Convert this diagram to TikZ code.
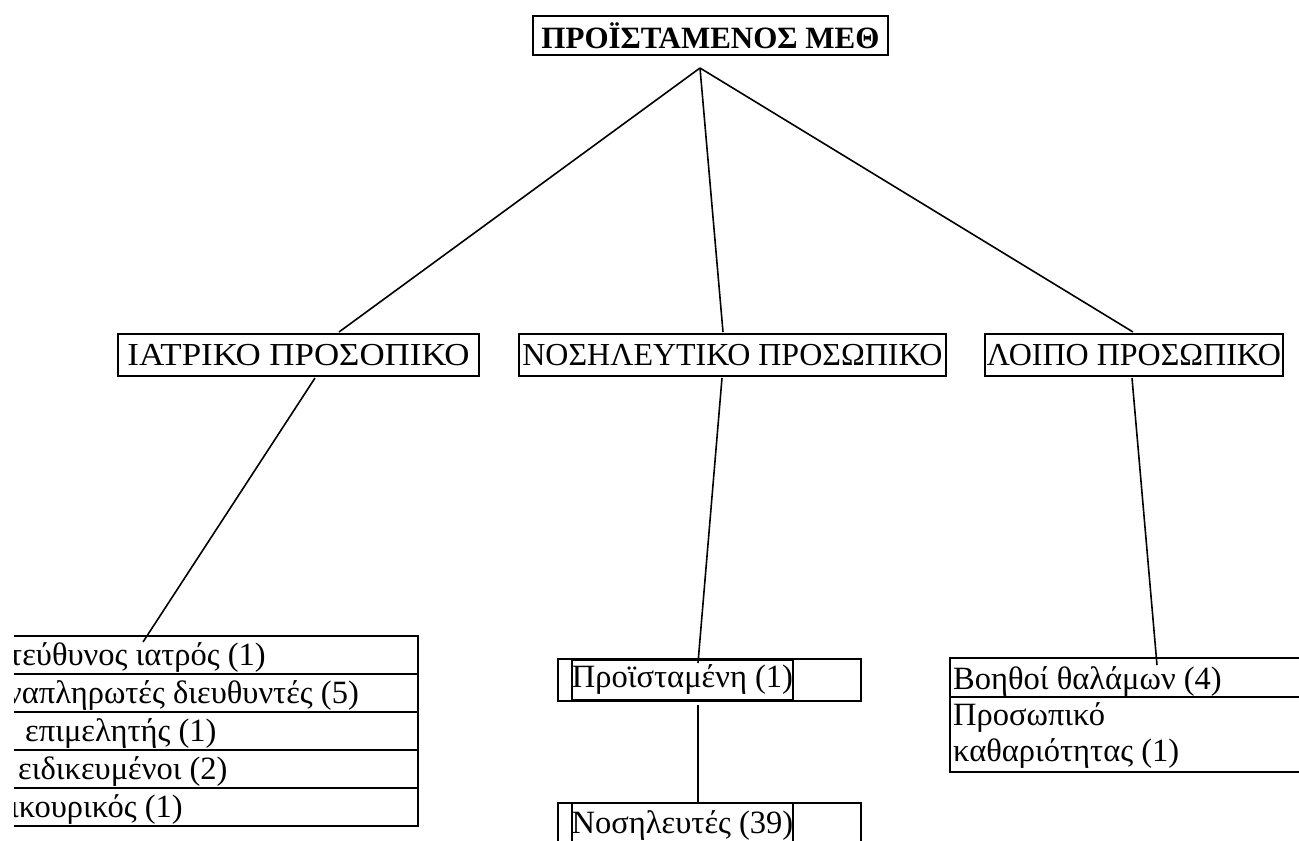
\documentclass[tikz,border=0pt]{standalone}
\usepackage{fontspec}
\setmainfont{Liberation Serif}
\begin{document}
\begin{tikzpicture}[x=1pt,y=-1pt,
  hbox/.style={draw, line width=1.8pt, inner sep=0pt, font=\fontsize{32}{36}\selectfont},
  cell/.style={inner sep=0pt, font=\fontsize{32.5}{37}\selectfont},
  rule/.style={line width=1.3pt},
  conn/.style={line width=1.6pt, color=black}]
\clip (0,0) rectangle (1299,841);
\fill[white] (0,0) rectangle (1299,841);

% top
\node[hbox, line width=1.5pt, minimum width=355pt, minimum height=39pt,
      font=\bfseries\fontsize{31}{36}\selectfont] (top) at (710.5,35.5) {ΠΡΟΪΣΤΑΜΕΝΟΣ ΜΕΘ};

% level 2
\node[hbox, minimum width=361pt, minimum height=42pt] (iatr) at (298.5,355) {\scalebox{1.09}[1]{ΙΑΤΡΙΚΟ ΠΡΟΣΟΠΙΚΟ}};
\node[hbox, minimum width=427pt, minimum height=42pt] (nosil) at (732.5,355) {ΝΟΣΗΛΕΥΤΙΚΟ ΠΡΟΣΩΠΙΚΟ};
\node[hbox, minimum width=298pt, minimum height=42pt] (loipo) at (1134,355) {ΛΟΙΠΟ ΠΡΟΣΩΠΙΚΟ};

% left table
\draw[rule] (14,636) -- (418,636) -- (418,826) -- (14,826);
\draw[rule] (14,674) -- (418,674);
\draw[rule] (14,712) -- (418,712);
\draw[rule] (14,750) -- (418,750);
\draw[rule] (14,788) -- (418,788);
\begin{scope}
\clip (14,630) rectangle (420,830);
\node[cell, anchor=base west] (r1) at (9,665) {τεύθυνος ιατρός (1)};
\node[cell, anchor=base west] (r2) at (7,703) {ναπληρωτές διευθυντές (5)};
\node[cell, anchor=base west] (r3) at (25,741) {επιμελητής (1)};
\node[cell, anchor=base west] (r4) at (18,779) {ειδικευμένοι (2)};
\node[cell, anchor=base west] (r5) at (10,817) {ικουρικός (1)};
\end{scope}

% middle
\node[draw, rule, minimum width=303pt, minimum height=42pt, inner sep=0pt] (proistout) at (709.5,680) {};
\node[cell, draw, line width=1.8pt, minimum width=219pt, minimum height=39pt] (proist) at (682.5,680) {Προϊσταμένη (1)};
\node[draw, rule, minimum width=303pt, minimum height=50pt, inner sep=0pt] (nosout) at (709.5,828) {};
\node[cell, draw, line width=1.8pt, minimum width=219pt, minimum height=50pt, text depth=12pt] (nos) at (682.5,828) {Νοσηλευτές (39)};

% right table
\draw[rule] (1305,658) -- (950,658) -- (950,772) -- (1305,772);
\draw[rule] (950,697) -- (1305,697);
\node[cell, anchor=base west] (voith) at (953,689) {Βοηθοί θαλάμων (4)};
\node[cell, anchor=north west, align=left, font=\fontsize{32.5}{36}\selectfont] (prosw) at (953,702) {Προσωπικό\\καθαριότητας (1)};

% connectors
\coordinate (apex) at (700,68);
\coordinate (iatrin) at (339,332);
\coordinate (nosilin) at (723,332);
\coordinate (loipoin) at (1133,332);
\coordinate (iatrout) at (315,378);
\coordinate (nosilout) at (722,378);
\coordinate (loipoout) at (1132,378);
\coordinate (r1in) at (143,642);
\coordinate (proistin) at (698,663);
\coordinate (voithin) at (1157,665);
\coordinate (proistbot) at (698,705);
\coordinate (nosin) at (698,803);
\draw[conn] (apex) -- (iatrin);
\draw[conn] (apex) -- (nosilin);
\draw[conn] (apex) -- (loipoin);
\draw[conn] (iatrout) -- (r1in);
\draw[conn] (nosilout) -- (proistin);
\draw[conn] (loipoout) -- (voithin);
\draw[conn] (proistbot) -- (nosin);
\end{tikzpicture}
\end{document}
